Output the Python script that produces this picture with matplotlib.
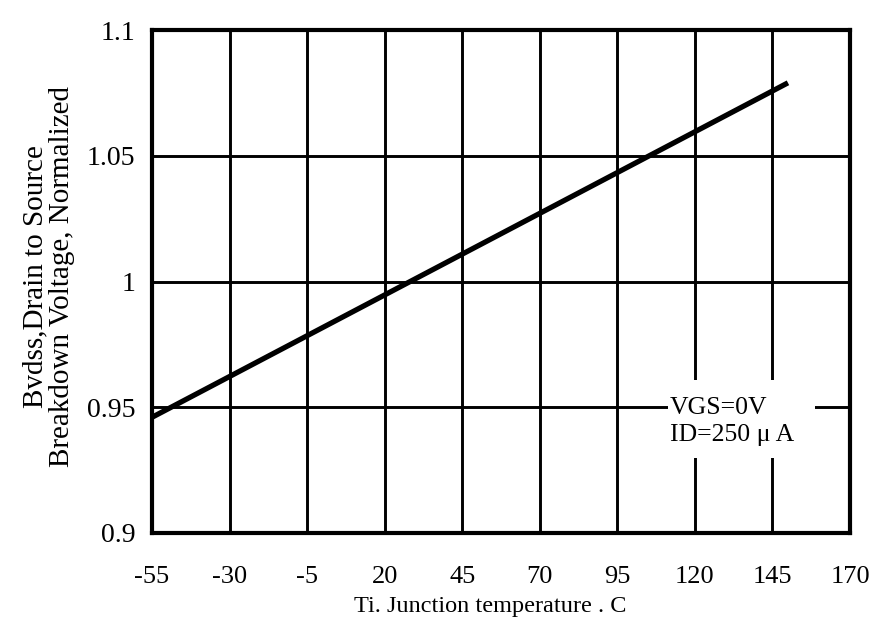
import matplotlib.pyplot as plt
from matplotlib.patches import Rectangle

# Donnees
temp = [-55, 150]
bvdss = [0.946, 1.079]
x_ticks = [-55, -30, -5, 20, 45, 70, 95, 120, 145, 170]
y_ticks = [0.9, 0.95, 1.0, 1.05, 1.1]
y_labels = ['0.9', '0.95', '1', '1.05', '1.1']

plt.rcParams['font.family'] = ['Liberation Serif', 'DejaVu Serif']
plt.rcParams['axes.unicode_minus'] = False

fig = plt.figure(figsize=(8.75, 6.2), dpi=100)
ax = fig.add_axes([152 / 875, 1 - 533 / 620, 698 / 875, 503 / 620])

ax.plot(temp, bvdss, color='black', linewidth=3.8, solid_capstyle='butt', zorder=3)

ax.set_xlim(-55, 170)
ax.set_ylim(0.9, 1.1)
ax.set_xticks(x_ticks)
ax.set_yticks(y_ticks)
ax.set_yticklabels(y_labels)
ax.tick_params(axis='x', length=0, labelsize=19, pad=24)
ax.tick_params(axis='y', length=0, labelsize=20, pad=12)
ax.grid(True, color='black', linewidth=2.1)
ax.set_axisbelow(True)
for s in ax.spines.values():
    s.set_linewidth(3)
    s.set_zorder(5)

ax.set_xlabel('Ti. Junction temperature . C', fontsize=17.5)
ax.xaxis.set_label_coords(0.484, -0.147)
ax.xaxis.label.set_va('center')
ax.set_ylabel('Bvdss,Drain to Source\nBreakdown Voltage, Normalized', fontsize=21, linespacing=1.08)
ax.yaxis.set_label_coords(-0.148, 0.51)
ax.yaxis.label.set_va('center')

# fond blanc derriere l'annotation
ax.add_patch(Rectangle((111.3, 0.930), 47.5, 0.031, facecolor='white', edgecolor='none', zorder=2))
ax.text(112, 0.9445, 'VGS=0V\nID=250 \u03bc A', fontsize=18.5, va='center', ha='left',
        linespacing=1.3, zorder=4)

fig.savefig('out.png', dpi=100)
